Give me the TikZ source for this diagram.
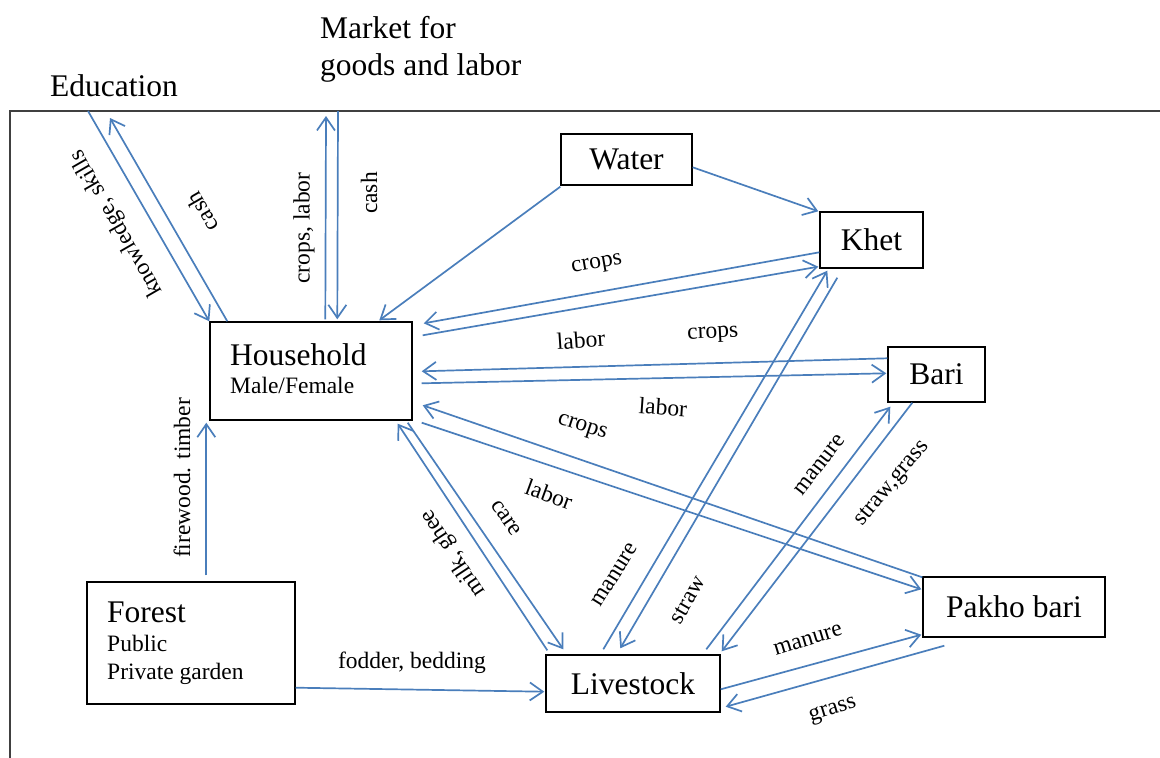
\documentclass[tikz,border=0pt]{standalone}
\usepackage{fontspec}
\IfFontExistsTF{LiberationSerif-Regular.ttf}{\setmainfont{LiberationSerif-Regular.ttf}}{\setmainfont{Liberation Serif}}
\usetikzlibrary{arrows.meta,calc}
\definecolor{flow}{HTML}{4A7EBB}
\definecolor{framec}{HTML}{404040}
\begin{document}
\begin{tikzpicture}[x=1pt,y=-1pt,
  box/.style={draw=black,line width=1.4pt,inner sep=0pt},
  big/.style={font=\fontsize{31.5}{38}\selectfont},
  small/.style={font=\fontsize{23.5}{28}\selectfont,inner sep=0pt},
  txt/.style={inner sep=0pt},
  flowline/.style={draw=flow,line width=1.7pt,-{Straight Barb[length=13pt,width=18pt,line width=1.7pt]}},
  plain/.style={draw=flow,line width=1.7pt}]
\useasboundingbox (0,0) rectangle (1160,758);
% frame
\draw[framec,line width=1.3pt] (10,758) -- (10,111) -- (1160,111);
% outside texts
\node[txt,big,anchor=base west] (edu) at (50,96.5) {Education};
\node[txt,big,anchor=base west] (mkt1) at (320,38) {Market for};
\node[txt,big,anchor=base west] (mkt2) at (320,75) {goods and labor};
\coordinate (e1) at (88,111);
\coordinate (e2) at (110,118);
\coordinate (m1) at (326,116);
\coordinate (m2) at (338,111);
% boxes
\node[box,big,minimum width=131pt,minimum height=51pt] (water) at (626.5,159.5) {Water};
\node[box,big,minimum width=103pt,minimum height=56pt] (khet) at (871.5,240) {Khet};
\node[box,big,minimum width=97pt,minimum height=55pt] (bari) at (936.5,374.5) {Bari};
\node[box,big,minimum width=182pt,minimum height=60pt] (pakho) at (1014,607) {Pakho bari};
\node[box,big,minimum width=174pt,minimum height=57pt] (live) at (633,683.5) {Livestock};
\node[box,minimum width=202pt,minimum height=98pt] (hh) at (311,371) {};
\node[box,minimum width=208pt,minimum height=122pt] (forest) at (191,643) {};
\node[txt,big,anchor=base west] (hht) at (230,365) {Household};
\node[txt,small,anchor=base west] (hhs) at (230,393) {Male/Female};
\node[txt,big,anchor=base west] (fot) at (107,622) {Forest};
\node[txt,small,anchor=base west] (fo1) at (107,651.5) {Public};
\node[txt,small,anchor=base west] (fo2) at (107,679) {Private garden};
% connectors
\draw[flowline] (e1) -- (hh.north west);
\draw[flowline] ($(hh.north west)+(18,0)$) -- (e2);
\draw[flowline] ($(hh.north west)+(116,-2)$) -- (m1);
\draw[flowline] (m2) -- ($(hh.north west)+(128,-2)$);
\draw[flowline] ($(water.south west)+(0,1)$) -- ($(hh.north west)+(170,-1)$);
\draw[flowline] ($(water.north east)+(0,34)$) -- ($(khet.north west)+(-1,0)$);
\draw[flowline] ($(khet.north west)+(0,41)$) -- ($(hh.north east)+(11,2)$);
\draw[flowline] ($(hh.north east)+(10,14)$) -- ($(khet.south west)+(-1,-2)$);
\draw[flowline] ($(bari.north west)+(0,12)$) -- ($(hh.north east)+(9,50)$);
\draw[flowline] ($(hh.north east)+(9,62)$) -- ($(bari.north west)+(-1,27)$);
\draw[flowline] ($(pakho.north west)+(0,1)$) -- ($(hh.north east)+(10,84)$);
\draw[flowline] ($(hh.south east)+(9,2)$) -- ($(pakho.north west)+(-1,13)$);
\draw[flowline] ($(live.north west)+(2,-4)$) -- ($(hh.south east)+(-15,3)$);
\draw[flowline] ($(hh.south east)+(-5,2)$) -- ($(live.north west)+(18,-5)$);
\draw[flowline] ($(live.north west)+(58,-5)$) -- ($(khet.south west)+(8,2)$);
\draw[flowline] ($(khet.south west)+(18,9)$) -- ($(live.north west)+(75,-6)$);
\draw[flowline] ($(live.north west)+(161,-5)$) -- ($(bari.south west)+(3,4)$);
\draw[flowline] ($(bari.south west)+(25,0)$) -- ($(live.north east)+(1,-3)$);
\draw[flowline] ($(live.north east)+(0,35)$) -- ($(pakho.south west)+(-1,-3)$);
\draw[flowline] ($(pakho.south west)+(22,8)$) -- ($(live.south east)+(5,-6)$);
\draw[flowline] ($(forest.north west)+(120,-6)$) -- ($(hh.south west)+(-3,2)$);
\draw[flowline] ($(forest.south east)+(0,-17)$) -- ($(live.south west)+(-1,-21)$);
% labels
\node[small,rotate=120] (lk) at (117,223) {knowledge, skills};
\node[small,rotate=120] (lc1) at (202,212) {cash};
\node[small,rotate=90] (lcl) at (304,228) {crops, labor};
\node[small,rotate=90] (lc2) at (369,193) {cash};
\node[small,rotate=10] (l1) at (597,265) {crops};
\node[small,rotate=4] (l2) at (581,340) {labor};
\node[small,rotate=3] (l3) at (713,335) {crops};
\node[small,rotate=-4] (l4) at (663,407) {labor};
\node[small,rotate=-18] (l5) at (582,428) {crops};
\node[small,rotate=-20] (l6) at (549,494) {labor};
\node[small,rotate=123.5] (l7) at (453,553) {milk, ghee};
\node[small,rotate=-55] (l8) at (506,518) {care};
\node[small,rotate=58] (l9) at (615,575) {manure};
\node[small,rotate=60] (l10) at (688,600) {straw};
\node[small,rotate=52] (l11) at (820,465) {manure};
\node[small,rotate=50] (l12) at (893,484) {straw,grass};
\node[small,rotate=17] (l13) at (808,640) {manure};
\node[small,rotate=17] (l14) at (833,711) {grass};
\node[small,rotate=90] (l15) at (182,478) {firewood. timber};
\node[small] (l16) at (412,663) {fodder, bedding};
\end{tikzpicture}
\end{document}
